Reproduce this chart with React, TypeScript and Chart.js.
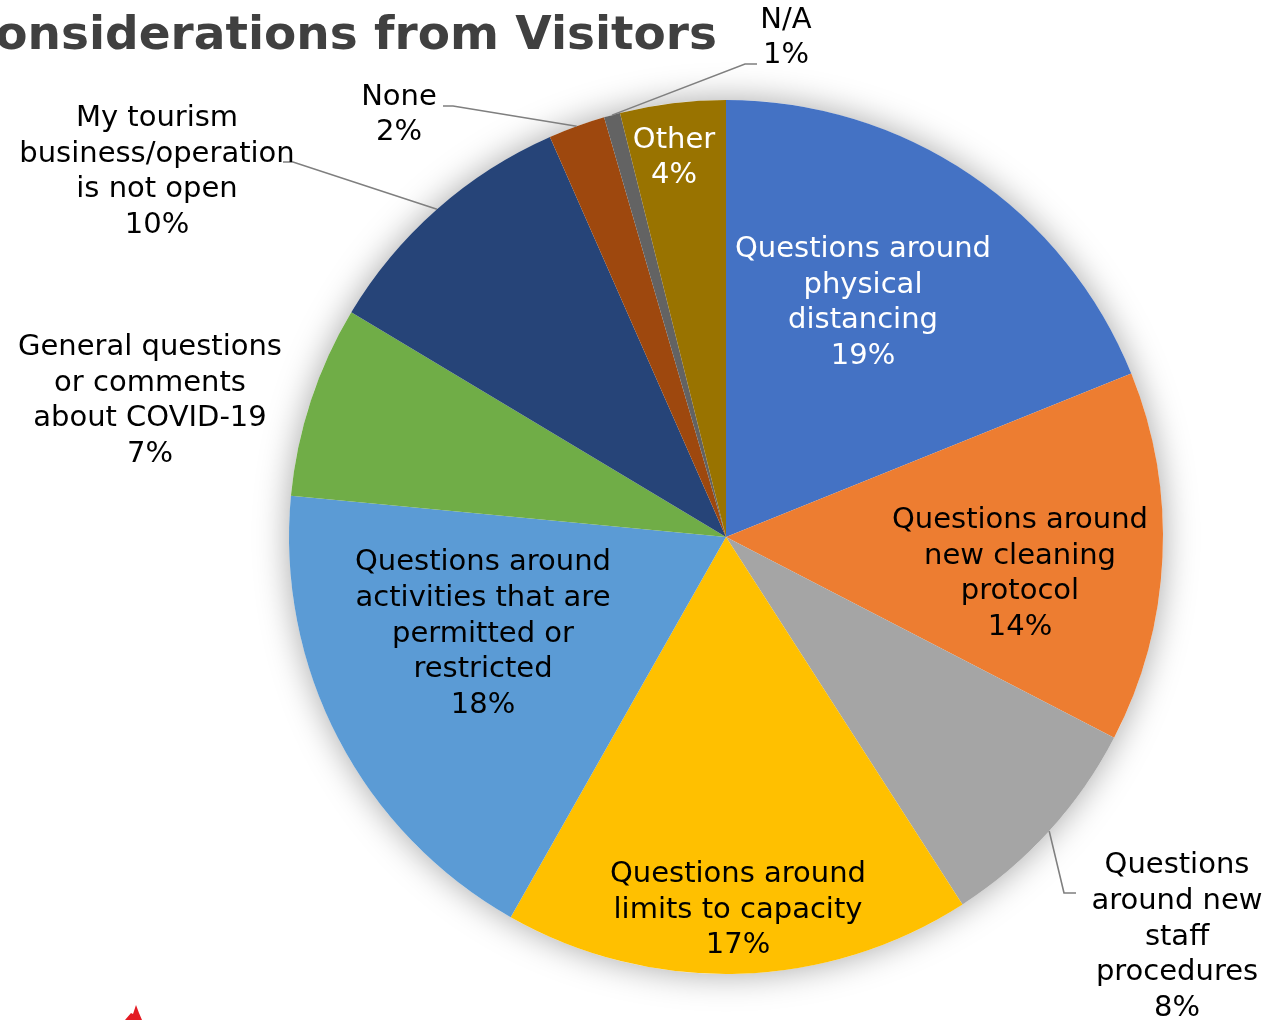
import React, { useEffect, useRef } from "react";
import { Chart, registerables } from "chart.js";

Chart.register(...registerables);

const categories: string[][] = [
  ["Questions around", "physical", "distancing"],
  ["Questions around", "new cleaning", "protocol"],
  ["Questions", "around new", "staff", "procedures"],
  ["Questions around", "limits to capacity"],
  ["Questions around", "activities that are", "permitted or", "restricted"],
  ["General questions", "or comments", "about COVID-19"],
  ["My tourism", "business/operation", "is not open"],
  ["None"],
  ["N/A"],
  ["Other"],
];
const values: number[] = [18.9, 13.7, 8.3, 17.3, 18.3, 7.1, 9.8, 2.1, 0.6, 3.9];
const colors: string[] = [
  "#4472C4", "#ED7D31", "#A5A5A5", "#FFC000", "#5B9BD5",
  "#70AD47", "#264478", "#9E480E", "#636363", "#997300",
];
const labelColors: string[] = [
  "#FFFFFF", "#000000", "#000000", "#000000", "#000000",
  "#000000", "#000000", "#000000", "#000000", "#FFFFFF",
];
// label block centre, offset from pie centre (px)
const labelOffsets: [number, number][] = [
  [137, -235], [294, 36], [451, 399], [12, 372], [-243, 96],
  [-576, -137], [-569, -366], [-327, -423], [60, -500], [-52, -380],
];
// leader line points (after the slice edge), offset from pie centre (px)
const leaders: ([number, number][] | null)[] = [
  null, null,
  [[338, 356], [350, 356]],
  null, null, null,
  [[-433, -375], [-443, -375]],
  [[-273, -431], [-283, -431]],
  [[19, -473], [31, -473]],
  null,
];
const title = "Considerations from Visitors";

export default function App() {
  const ref = useRef<HTMLCanvasElement | null>(null);
  useEffect(() => {
    if (!ref.current) return;
    const shadowPlugin = {
      id: "pieShadow",
      beforeDatasetsDraw(chart: any) {
        const arc = chart.getDatasetMeta(0).data[0] as any;
        if (!arc) return;
        const ctx = chart.ctx;
        ctx.save();
        ctx.shadowColor = "rgba(0,0,0,0.35)";
        ctx.shadowBlur = 34;
        ctx.fillStyle = "#ffffff";
        ctx.beginPath();
        ctx.arc(arc.x, arc.y, arc.outerRadius, 0, Math.PI * 2);
        ctx.fill();
        ctx.restore();
      },
    };
    const labelPlugin = {
      id: "pieLabels",
      afterDatasetsDraw(chart: any) {
        const ctx = chart.ctx;
        const meta = chart.getDatasetMeta(0);
        const arcs = meta.data as any[];
        if (!arcs.length) return;
        const cx = arcs[0].x;
        const cy = arcs[0].y;
        ctx.save();
        // leader lines
        ctx.strokeStyle = "#7F7F7F";
        ctx.lineWidth = 1.6;
        arcs.forEach((a, i) => {
          const pts = leaders[i];
          if (!pts) return;
          const mid = (a.startAngle + a.endAngle) / 2;
          ctx.beginPath();
          ctx.moveTo(cx + Math.cos(mid) * a.outerRadius, cy + Math.sin(mid) * a.outerRadius);
          pts.forEach(([dx, dy]) => ctx.lineTo(cx + dx, cy + dy));
          ctx.stroke();
        });
        // labels
        ctx.font = '29px "DejaVu Sans"';
        ctx.textAlign = "center";
        ctx.textBaseline = "middle";
        const lh = 35.7;
        arcs.forEach((a, i) => {
          const lines = [...categories[i], Math.round(values[i]) + "%"];
          const [dx, dy] = labelOffsets[i];
          const x = cx + dx;
          const y0 = cy + dy - ((lines.length - 1) * lh) / 2;
          ctx.fillStyle = labelColors[i];
          lines.forEach((t, k) => ctx.fillText(t, x, y0 + k * lh + 1));
        });
        // title
        ctx.font = 'bold 47px "DejaVu Sans"';
        ctx.fillStyle = "#404040";
        ctx.textAlign = "right";
        ctx.textBaseline = "alphabetic";
        ctx.fillText(title, 717, 49);
        // small logo fragment
        ctx.fillStyle = "#E31B23";
        ctx.beginPath();
        ctx.moveTo(125, 1020);
        ctx.lineTo(131, 1013);
        ctx.lineTo(133, 1014);
        ctx.lineTo(136, 1005);
        ctx.lineTo(139, 1013);
        ctx.lineTo(142, 1020);
        ctx.closePath();
        ctx.fill();
        ctx.restore();
      },
    };
    const chart = new Chart(ref.current, {
      type: "pie",
      data: {
        labels: categories.map((c) => c.join(" ")),
        datasets: [
          {
            data: values,
            backgroundColor: colors,
            borderWidth: 0,
          },
        ],
      },
      options: {
        animation: false,
        responsive: false,
        devicePixelRatio: 1,
        layout: { padding: { left: 289, right: 102, top: 100, bottom: 46 } },
        plugins: { legend: { display: false }, tooltip: { enabled: false } },
      },
      plugins: [shadowPlugin, labelPlugin],
    });
    return () => chart.destroy();
  }, []);
  return (
    <div style={{ position: "fixed", left: 0, top: 0, width: 1265, height: 1020, background: "#fff" }}>
      <canvas ref={ref} width={1265} height={1020} style={{ display: "block", width: 1265, height: 1020 }} />
    </div>
  );
}
